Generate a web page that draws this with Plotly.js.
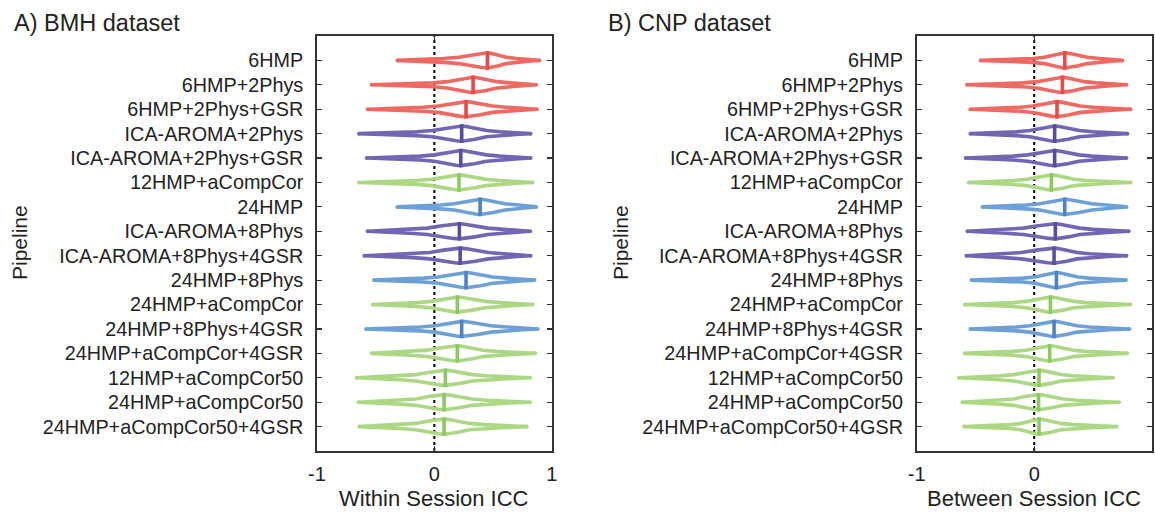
<!DOCTYPE html>
<html>
<head>
<meta charset="utf-8">
<script src="https://cdn.plot.ly/plotly-3.0.1.min.js"></script>
<style>html,body{margin:0;padding:0;background:#fff;}#chart{width:1155px;height:513px;}</style>
</head>
<body>
<div id="chart"></div>
<script>
const pipelines = ["6HMP","6HMP+2Phys","6HMP+2Phys+GSR","ICA-AROMA+2Phys","ICA-AROMA+2Phys+GSR","12HMP+aCompCor","24HMP","ICA-AROMA+8Phys","ICA-AROMA+8Phys+4GSR","24HMP+8Phys","24HMP+aCompCor","24HMP+8Phys+4GSR","24HMP+aCompCor+4GSR","12HMP+aCompCor50","24HMP+aCompCor50","24HMP+aCompCor50+4GSR"];
const families = ["hmp6","hmp6","hmp6","aroma","aroma","acc","hmp24","aroma","aroma","hmp24","acc","hmp24","acc","acc","acc","acc"];

// Panel A: BMH dataset (Within Session ICC)
const bmhMin    = [-0.315,-0.534,-0.568,-0.642,-0.576,-0.642,-0.315,-0.568,-0.597,-0.514,-0.525,-0.582,-0.534,-0.662,-0.645,-0.640];
const bmhLow    = [ 0.077,-0.010,-0.094,-0.150,-0.122,-0.150, 0.050,-0.207,-0.180,-0.094,-0.150,-0.120,-0.200,-0.292,-0.290,-0.290];
const bmhMedian = [ 0.452, 0.330, 0.270, 0.233, 0.225, 0.210, 0.390, 0.213, 0.220, 0.270, 0.196, 0.233, 0.196, 0.094, 0.083, 0.083];
const bmhHigh   = [ 0.700, 0.645, 0.617, 0.560, 0.560, 0.560, 0.716, 0.588, 0.588, 0.617, 0.560, 0.617, 0.532, 0.447, 0.447, 0.418];
const bmhMax    = [ 0.895, 0.867, 0.873, 0.820, 0.820, 0.838, 0.867, 0.816, 0.820, 0.853, 0.838, 0.881, 0.859, 0.816, 0.816, 0.788];

// Panel B: CNP dataset (Between Session ICC)
const cnpMin    = [-0.455,-0.572,-0.543,-0.543,-0.583,-0.557,-0.440,-0.568,-0.577,-0.534,-0.591,-0.543,-0.591,-0.640,-0.611,-0.597];
const cnpLow    = [-0.010,-0.095,-0.120,-0.150,-0.180,-0.180,-0.066,-0.237,-0.260,-0.095,-0.180,-0.150,-0.180,-0.290,-0.290,-0.200];
const cnpMedian = [ 0.260, 0.240, 0.194, 0.174, 0.174, 0.146, 0.260, 0.180, 0.169, 0.189, 0.138, 0.169, 0.132, 0.041, 0.037, 0.041];
const cnpHigh   = [ 0.557, 0.530, 0.500, 0.500, 0.490, 0.444, 0.614, 0.500, 0.470, 0.470, 0.444, 0.470, 0.444, 0.330, 0.360, 0.330];
const cnpMax    = [ 0.750, 0.785, 0.819, 0.793, 0.785, 0.821, 0.785, 0.804, 0.785, 0.780, 0.818, 0.810, 0.790, 0.671, 0.722, 0.700];

const xTickVals = [-1, 0, 1];
const xTickText = ["-1", "0", "1"];

const outlineColor = {hmp6:"rgb(240,104,98)", aroma:"rgb(112,102,178)", acc:"rgb(172,216,132)", hmp24:"rgb(110,160,216)"};
const medianColor  = {hmp6:"rgb(232,74,68)",  aroma:"rgb(88,78,158)",  acc:"rgb(142,200,98)",  hmp24:"rgb(78,130,196)"};

// outline profile (style): fraction along segment -> half-height
const H = 0.31;
const tailProf = [[0, 0], [0.5, 0.035], [1, 0.08]];
const bodyProf = [[0.35, 0.42], [0.65, 0.74], [0.88, 0.94], [1, 1]];

function outline(mn, lo, md, hi, mx, yc) {
  const top = [];
  tailProf.forEach(([f, h]) => top.push([mn + f * (lo - mn), h]));
  bodyProf.forEach(([f, h]) => top.push([lo + f * (md - lo), Math.max(0.08, h * H)]));
  const right = [];
  bodyProf.slice(0, -1).reverse().forEach(([f, h]) => right.push([hi + f * (md - hi), Math.max(0.08, h * H)]));
  tailProf.slice().reverse().forEach(([f, h]) => right.push([mx + f * (hi - mx), h]));
  const pts = top.concat(right);
  const xs = [], ys = [];
  pts.forEach(([x, h]) => { xs.push(x); ys.push(yc - h); });
  pts.slice().reverse().forEach(([x, h]) => { xs.push(x); ys.push(yc + h); });
  return {xs, ys};
}

const traces = [];
function addPanel(mins, lows, meds, highs, maxs, xa, ya) {
  for (let i = 0; i < pipelines.length; i++) {
    const yc = i + 1, f = families[i];
    const o = outline(mins[i], lows[i], meds[i], highs[i], maxs[i], yc);
    traces.push({
      type: "scatter", mode: "lines", xaxis: xa, yaxis: ya, hoverinfo: "skip", showlegend: false,
      x: o.xs, y: o.ys,
      line: {color: outlineColor[f], width: 3.6, shape: "linear"}
    });
    traces.push({
      type: "scatter", mode: "markers", xaxis: xa, yaxis: ya, hoverinfo: "skip", showlegend: false,
      x: [mins[i], maxs[i]], y: [yc, yc],
      marker: {color: outlineColor[f], size: 4, line: {width: 0}}
    });
    traces.push({
      type: "scatter", mode: "lines", xaxis: xa, yaxis: ya, hoverinfo: "skip", showlegend: false,
      x: [meds[i], meds[i]], y: [yc - H - 0.07, yc + H + 0.07],
      line: {color: medianColor[f], width: 3.6}
    });
  }
}
addPanel(bmhMin, bmhLow, bmhMedian, bmhHigh, bmhMax, "x", "y");
addPanel(cnpMin, cnpLow, cnpMedian, cnpHigh, cnpMax, "x2", "y2");

const font = {family: "Liberation Sans, Arial, sans-serif", color: "#222"};
const yDomain = [1 - 451/513, 1 - 36/513];
function xAxis(domain, anchor) {
  return {domain: domain, anchor: anchor, range: [-1, 1], tickvals: xTickVals, ticktext: xTickText,
    ticks: "inside", ticklen: 5, tickcolor: "#333", tickwidth: 1.2, showline: true, linecolor: "#333", linewidth: 1.8,
    mirror: "ticks", showgrid: false, zeroline: false, fixedrange: true,
    tickfont: Object.assign({size: 20}, font), ticklabelstandoff: 4};
}
function yAxis(domain, anchor) {
  return {domain: domain, anchor: anchor, range: [17, 0], tickvals: pipelines.map((p, i) => i + 1), ticktext: pipelines,
    ticks: "inside", ticklen: 5, tickcolor: "#333", tickwidth: 1.2, showline: true, linecolor: "#333", linewidth: 1.8,
    mirror: "ticks", showgrid: false, zeroline: false, fixedrange: true,
    tickfont: Object.assign({size: 19.8}, font), ticklabelstandoff: 8};
}

const layout = {
  width: 1155, height: 513,
  margin: {l: 0, r: 0, t: 0, b: 0},
  paper_bgcolor: "#fff", plot_bgcolor: "#fff",
  showlegend: false,
  xaxis: xAxis([317/1155, 551.7/1155], "y"),
  yaxis: yAxis(yDomain, "x"),
  xaxis2: xAxis([916.7/1155, 1151.7/1155], "y2"),
  yaxis2: yAxis(yDomain, "x2"),
  shapes: [
    {type: "line", xref: "x", yref: "y domain", x0: 0, x1: 0, y0: 0, y1: 1, line: {color: "#000", width: 2, dash: "dot"}, layer: "below"},
    {type: "line", xref: "x2", yref: "y2 domain", x0: 0, x1: 0, y0: 0, y1: 1, line: {color: "#000", width: 2, dash: "dot"}, layer: "below"}
  ],
  annotations: [
    {text: "A) BMH dataset", xref: "paper", yref: "paper", x: 12/1155, y: 1 - 23/513, xanchor: "left", yanchor: "middle", showarrow: false, font: Object.assign({size: 23.5}, font)},
    {text: "B) CNP dataset", xref: "paper", yref: "paper", x: 606/1155, y: 1 - 23/513, xanchor: "left", yanchor: "middle", showarrow: false, font: Object.assign({size: 23.5}, font)},
    {text: "Pipeline", xref: "paper", yref: "paper", x: 20/1155, y: 1 - 243/513, xanchor: "center", yanchor: "middle", textangle: -90, showarrow: false, font: Object.assign({size: 21}, font)},
    {text: "Pipeline", xref: "paper", yref: "paper", x: 621/1155, y: 1 - 243/513, xanchor: "center", yanchor: "middle", textangle: -90, showarrow: false, font: Object.assign({size: 21}, font)},
    {text: "Within Session ICC", xref: "paper", yref: "paper", x: 434/1155, y: 1 - 498/513, xanchor: "center", yanchor: "middle", showarrow: false, font: Object.assign({size: 22}, font)},
    {text: "Between Session ICC", xref: "paper", yref: "paper", x: 1034/1155, y: 1 - 498/513, xanchor: "center", yanchor: "middle", showarrow: false, font: Object.assign({size: 22}, font)}
  ]
};

Plotly.newPlot("chart", traces, layout, {staticPlot: true, displayModeBar: false});
</script>
</body>
</html>
